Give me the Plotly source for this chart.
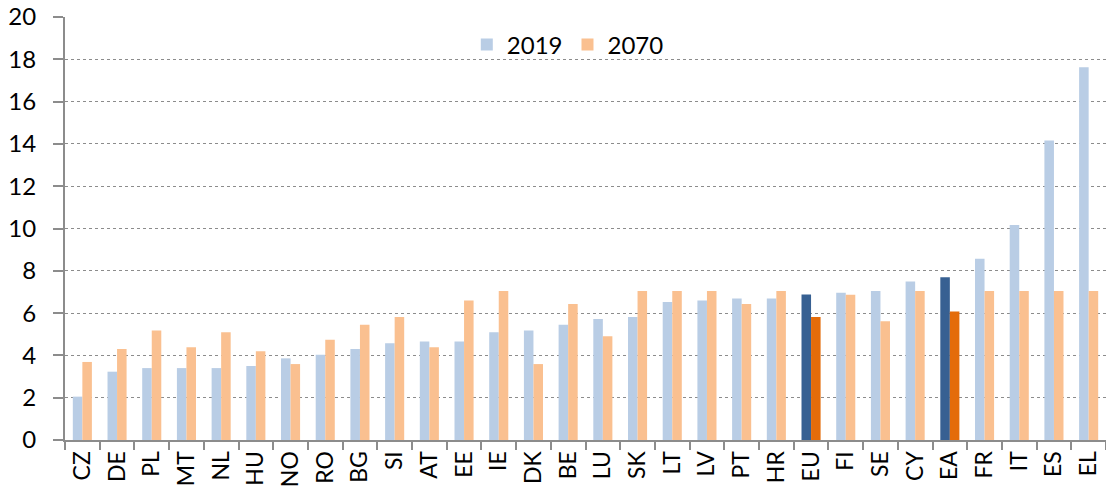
import plotly.graph_objects as go

countries = ["CZ", "DE", "PL", "MT", "NL", "HU", "NO", "RO", "BG", "SI", "AT", "EE", "IE", "DK", "BE",
             "LU", "SK", "LT", "LV", "PT", "HR", "EU", "FI", "SE", "CY", "EA", "FR", "IT", "ES", "EL"]
v2019 = [2.05, 3.23, 3.40, 3.40, 3.40, 3.50, 3.86, 4.03, 4.30, 4.57, 4.66, 4.66, 5.10, 5.18, 5.45,
         5.72, 5.81, 6.52, 6.60, 6.69, 6.69, 6.88, 6.96, 7.05, 7.50, 7.69, 8.57, 10.16, 14.16, 17.62]
v2070 = [3.69, 4.30, 5.18, 4.39, 5.10, 4.20, 3.59, 4.74, 5.45, 5.81, 4.39, 6.60, 7.05, 3.59, 6.43,
         4.91, 7.05, 7.05, 7.05, 6.43, 7.05, 5.81, 6.87, 5.62, 7.05, 6.08, 7.05, 7.05, 7.05, 7.05]
highlight = ["EU", "EA"]

LIGHT_BLUE, DARK_BLUE = "#B9CDE5", "#376092"
LIGHT_ORANGE, DARK_ORANGE = "#FAC090", "#E46C0A"

c2019 = [DARK_BLUE if c in highlight else LIGHT_BLUE for c in countries]
c2070 = [DARK_ORANGE if c in highlight else LIGHT_ORANGE for c in countries]

fig = go.Figure()
fig.add_trace(go.Bar(x=countries, y=v2019, name="2019", marker=dict(color=c2019, line=dict(width=0))))
fig.add_trace(go.Bar(x=countries, y=v2070, name="2070", marker=dict(color=c2070, line=dict(width=0))))

font = "Lato, 'Open Sans', Arial, sans-serif"
fig.update_layout(
    width=1106, height=493,
    margin=dict(l=65, r=0, t=17, b=53, autoexpand=False),
    paper_bgcolor="white", plot_bgcolor="white",
    barmode="group", bargap=0.45, bargroupgap=0,
    font=dict(family=font, size=24, color="black"),
    showlegend=True,
    legend=dict(orientation="h", x=0.483, y=0.934, xanchor="center", yanchor="middle",
                font=dict(size=24), itemwidth=30, bgcolor="rgba(0,0,0,0)"),
    xaxis=dict(tickangle=-90, showline=True, linecolor="#8c8c8c", linewidth=2,
               ticks="outside", tickson="boundaries", ticklen=8, tickcolor="#8c8c8c", tickwidth=2,
               showgrid=False, tickfont=dict(size=23)),
    yaxis=dict(range=[0, 20], dtick=2, showline=True, linecolor="#8c8c8c", linewidth=2,
               ticks="outside", ticklen=10, tickcolor="#8c8c8c", tickwidth=2,
               ticklabelstandoff=12,
               showgrid=True, gridcolor="#8c8c8c", griddash="dot", gridwidth=1,
               zeroline=False, tickfont=dict(size=24)),
)

fig.write_html("out.html", post_script="document.body.style.margin='0px';",
               config={"displayModeBar": False})
